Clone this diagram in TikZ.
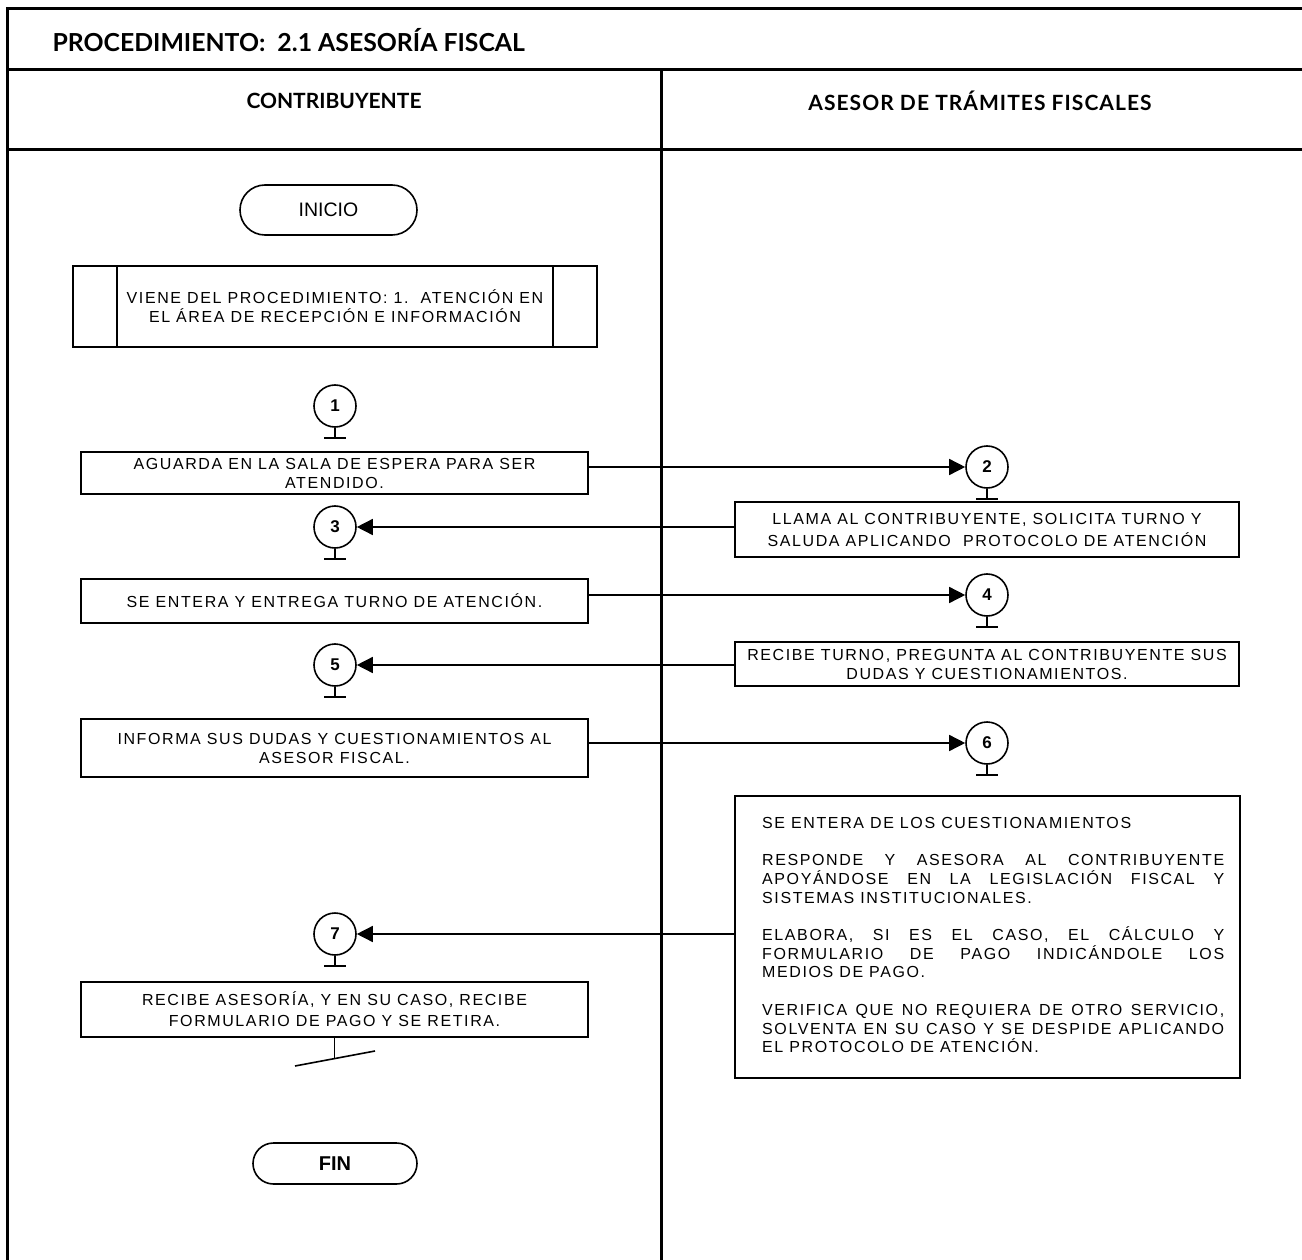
\documentclass[tikz,border=0pt]{standalone}
\usepackage{fontspec}
\setmainfont{Liberation Sans}
\newfontfamily\headfont{Lato}
\newfontfamily\boxfont[LetterSpace=10]{Liberation Sans}
\usetikzlibrary{arrows.meta,shapes.misc}

\tikzset{
  frame/.style={line width=3pt},
  headtext/.style={font=\headfont\bfseries\fontsize{21}{25}\selectfont},
  stepbox/.style={draw, line width=1.8pt, inner sep=0pt, align=center,
    font=\boxfont\fontsize{16}{19}\selectfont},
  term/.style={rounded rectangle, draw, line width=1.6pt, inner sep=0pt,
    minimum height=50pt, minimum width=177pt},
  conn/.style={circle, draw, line width=1.6pt, minimum size=42pt, inner sep=0pt,
    font=\bfseries\fontsize{17}{17}\selectfont},
  conline/.style={line width=1.6pt},
  flow/.style={line width=1.5pt, -{Triangle[length=16pt,width=16pt]}},
}

\begin{document}
\begin{tikzpicture}[x=1pt,y=-1pt]
\useasboundingbox (0,0) rectangle (1302,1260);

% outer frame, title band, lane headers and lane divider
\draw[frame] (1302,9) -- (7,9) -- (7,1260);
\draw[frame] (7,70) -- (1302,70);
\draw[frame] (7,150) -- (1302,150);
\draw[frame] (661,70) -- (661,1260);

\node[headtext, anchor=west, font=\headfont\bfseries\fontsize{24.8}{28}\selectfont] (title) at (49,40)
  {PROCEDIMIENTO:\ \ 2.1 ASESORÍA FISCAL};
\node[headtext] (laneA) at (334,101) {CONTRIBUYENTE};
\node[headtext, font=\headfont\bfseries\fontsize{21}{25}\selectfont\addfontfeature{LetterSpace=5}]
  (laneB) at (980,101) {ASESOR DE TRÁMITES FISCALES};

% start terminator and link to previous procedure
\node[term, font=\fontsize{19.5}{19.5}\selectfont] (inicio) at (328.5,210) {INICIO};
\node[stepbox, minimum width=524pt, minimum height=81pt] (viene) at (335,306.5)
  {VIENE DEL PROCEDIMIENTO: 1.\ \ ATENCIÓN EN\\EL ÁREA DE RECEPCIÓN E INFORMACIÓN};
\draw[line width=1.8pt] ([xshift=45pt]viene.north west) -- ([xshift=45pt]viene.south west);
\draw[line width=1.8pt] ([xshift=-45pt]viene.north east) -- ([xshift=-45pt]viene.south east);

% connectors
\node[conn] (c1) at (335,406) {1};
\node[conn] (c2) at (987,467) {2};
\node[conn] (c3) at (335,527) {3};
\node[conn] (c4) at (987,595) {4};
\node[conn] (c5) at (335,665) {5};
\node[conn] (c6) at (987,743) {6};
\node[conn] (c7) at (335,934) {7};
\foreach \n in {1,...,7}{
  \draw[conline] (c\n.south) -- ++(0,10) coordinate (s\n);
  \draw[conline] ([xshift=-11pt]s\n) -- ([xshift=11pt]s\n);
}

% contributor steps
\node[stepbox, minimum width=507pt, minimum height=42pt] (aguarda) at (334.5,473)
  {AGUARDA EN LA SALA DE ESPERA PARA SER\\ATENDIDO.};
\node[stepbox, minimum width=507pt, minimum height=44pt] (entera) at (334.5,601)
  {SE ENTERA Y ENTREGA TURNO DE ATENCIÓN.};
\node[stepbox, minimum width=507pt, minimum height=58pt] (informa) at (334.5,748)
  {INFORMA SUS DUDAS Y CUESTIONAMIENTOS AL\\ASESOR FISCAL.};
\node[stepbox, minimum width=507pt, minimum height=55pt,
      font=\boxfont\fontsize{16}{21}\selectfont] (recibe) at (334.5,1009.5)
  {RECIBE ASESORÍA, Y EN SU CASO, RECIBE\\FORMULARIO DE PAGO Y SE RETIRA.};

% advisor steps
\node[stepbox, minimum width=504pt, minimum height=55pt,
      font=\boxfont\fontsize{16}{22}\selectfont] (llama) at (987,529.5)
  {LLAMA AL CONTRIBUYENTE, SOLICITA TURNO Y\\SALUDA APLICANDO\ \ PROTOCOLO DE ATENCIÓN};
\node[stepbox, minimum width=504pt, minimum height=44pt] (turno) at (987,664)
  {RECIBE TURNO, PREGUNTA AL CONTRIBUYENTE SUS\\DUDAS Y CUESTIONAMIENTOS.};
\node[draw, line width=1.8pt, minimum width=505pt, minimum height=282pt, inner sep=0pt] (asesora) at (987.5,937) {};
\node[anchor=north west, inner sep=0pt, text width=462pt, align=justify,
      font=\boxfont\fontsize{16}{18.7}\selectfont] (asesoratxt) at (762,817)
  {\setlength{\parskip}{18.7pt}\hyphenpenalty=10000
   SE ENTERA DE LOS CUESTIONAMIENTOS\par
   RESPONDE Y ASESORA AL CONTRIBUYENTE\linebreak
   APOYÁNDOSE EN LA LEGISLACIÓN FISCAL Y\linebreak
   SISTEMAS INSTITUCIONALES.\par
   ELABORA, SI ES EL CASO, EL CÁLCULO Y\linebreak
   FORMULARIO DE PAGO INDICÁNDOLE LOS\linebreak
   MEDIOS DE PAGO.\par
   VERIFICA QUE NO REQUIERA DE OTRO SERVICIO,\linebreak
   SOLVENTA EN SU CASO Y SE DESPIDE APLICANDO\linebreak
   EL PROTOCOLO DE ATENCIÓN.};

% flow between lanes
\draw[flow] (aguarda.east |- c2.west) -- (c2.west);
\draw[flow] (llama.west |- c3.east) -- (c3.east);
\draw[flow] (entera.east |- c4.west) -- (c4.west);
\draw[flow] (turno.west |- c5.east) -- (c5.east);
\draw[flow] (informa.east |- c6.west) -- (c6.west);
\draw[flow] (asesora.west |- c7.east) -- (c7.east);

% end of the contributor's path
\draw[conline] (recibe.south) -- ++(0,21) coordinate (endmark);
\coordinate (endL) at (295,1066);
\coordinate (endR) at (375,1051);
\draw[conline] (endL) -- (endR);

\node[term, minimum width=164pt, minimum height=41pt, font=\bfseries\fontsize{20}{20}\selectfont] (fin) at (335,1163.5) {FIN};
\end{tikzpicture}
\end{document}
